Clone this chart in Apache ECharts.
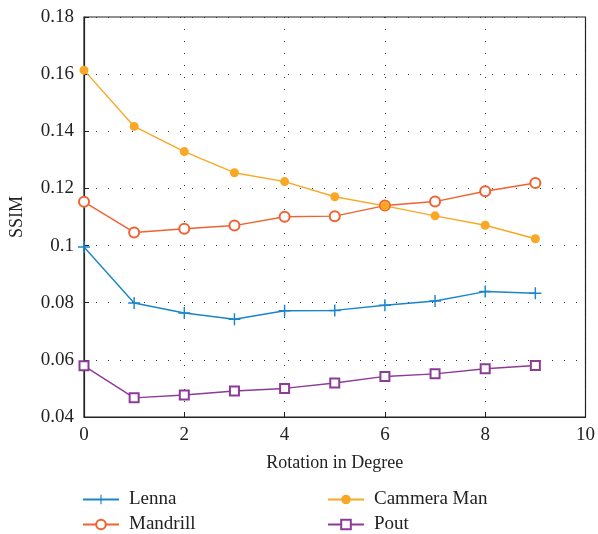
<!DOCTYPE html>
<html><head><meta charset="utf-8">
<script src="https://cdn.jsdelivr.net/npm/echarts@6/dist/echarts.min.js"></script>
<style>html,body{margin:0;padding:0;background:#fff}#c{width:598px;height:534px}</style>
</head><body><div id="c"></div>
<script>
var rotation = [0,1,2,3,4,5,6,7,8,9];
var lenna = [0.0995,0.0799,0.0764,0.0742,0.0772,0.0773,0.0791,0.0806,0.0839,0.0833];
var mandrill = [0.1153,0.1046,0.1059,0.1070,0.1101,0.1103,0.1140,0.1154,0.1190,0.1219];
var cammera = [0.1614,0.1417,0.1329,0.1255,0.1224,0.1171,0.1139,0.1104,0.1071,0.1024];
var pout = [0.0579,0.0467,0.0477,0.0491,0.0500,0.0519,0.0542,0.0551,0.0569,0.0580];
var yTicks = [0.04,0.06,0.08,0.1,0.12,0.14,0.16,0.18];
var seriesNames = ['Lenna','Mandrill','Cammera Man','Pout'];

function pairs(v){ return rotation.map(function(x,i){return [x, v[i]];}); }
var font = 'Liberation Serif';
var plus = 'path://M4.4,0H5.6V4.4H10V5.6H5.6V10H4.4V5.6H0V4.4H4.4Z';
var chart = echarts.init(document.getElementById('c'));
var legendPos = [[82,490],[82,515],[327,490],[327,515]];
function legend(i){
  return {left:legendPos[i][0],top:legendPos[i][1],padding:0,itemWidth:36,itemHeight:12,data:[seriesNames[i]],
    textStyle:{fontFamily:font,fontSize:19,color:'#222',padding:[0,0,0,5]}};
}
chart.setOption({
  animation:false,
  textStyle:{fontFamily:font},
  grid:{left:83,top:17,right:11,bottom:117,show:true,borderColor:'#222',borderWidth:1.2,containLabel:false},
  xAxis:{type:'value',min:0,max:10,interval:2,
    name:'Rotation in Degree',nameLocation:'middle',nameGap:37,
    nameTextStyle:{fontFamily:font,fontSize:18,color:'#222'},
    axisLine:{lineStyle:{color:'#222',width:1.2}},
    axisTick:{inside:true,length:5,lineStyle:{color:'#222'}},
    axisLabel:{fontFamily:font,fontSize:19,color:'#222',margin:9},
    splitLine:{show:true,lineStyle:{type:[1,11],color:'#333',width:1}}},
  yAxis:{type:'value',min:0.04,max:0.18,interval:0.02,
    name:'SSIM',nameLocation:'middle',nameGap:58,
    nameTextStyle:{fontFamily:font,fontSize:18,color:'#222'},
    axisLine:{lineStyle:{color:'#222',width:1.2}},
    axisTick:{inside:true,length:5,lineStyle:{color:'#222'}},
    axisLabel:{fontFamily:font,fontSize:19,color:'#222',margin:10,
      formatter:function(v){ var t=yTicks.reduce(function(a,b){return Math.abs(b-v)<Math.abs(a-v)?b:a;}); return String(t);} },
    splitLine:{show:true,lineStyle:{type:[1,11],color:'#333',width:1}}},
  legend:[legend(0),legend(1),legend(2),legend(3)],
  series:[
    {name:seriesNames[0],type:'line',data:pairs(lenna),symbol:plus,symbolSize:12,
     lineStyle:{color:'#1a86c8',width:1.4},itemStyle:{color:'#1a86c8'}},
    {name:seriesNames[1],type:'line',data:pairs(mandrill),symbol:'emptyCircle',symbolSize:10,
     lineStyle:{color:'#f06232',width:1.4},itemStyle:{color:'#f06232',borderWidth:1.3}},
    {name:seriesNames[2],type:'line',data:pairs(cammera),symbol:'circle',symbolSize:9,
     lineStyle:{color:'#f8a824',width:1.4},itemStyle:{color:'#f8a824'}},
    {name:seriesNames[3],type:'line',data:pairs(pout),symbol:'emptyRect',symbolSize:9,
     lineStyle:{color:'#8d3a99',width:1.4},itemStyle:{color:'#8d3a99',borderWidth:1.3}}
  ]
});
</script></body></html>
